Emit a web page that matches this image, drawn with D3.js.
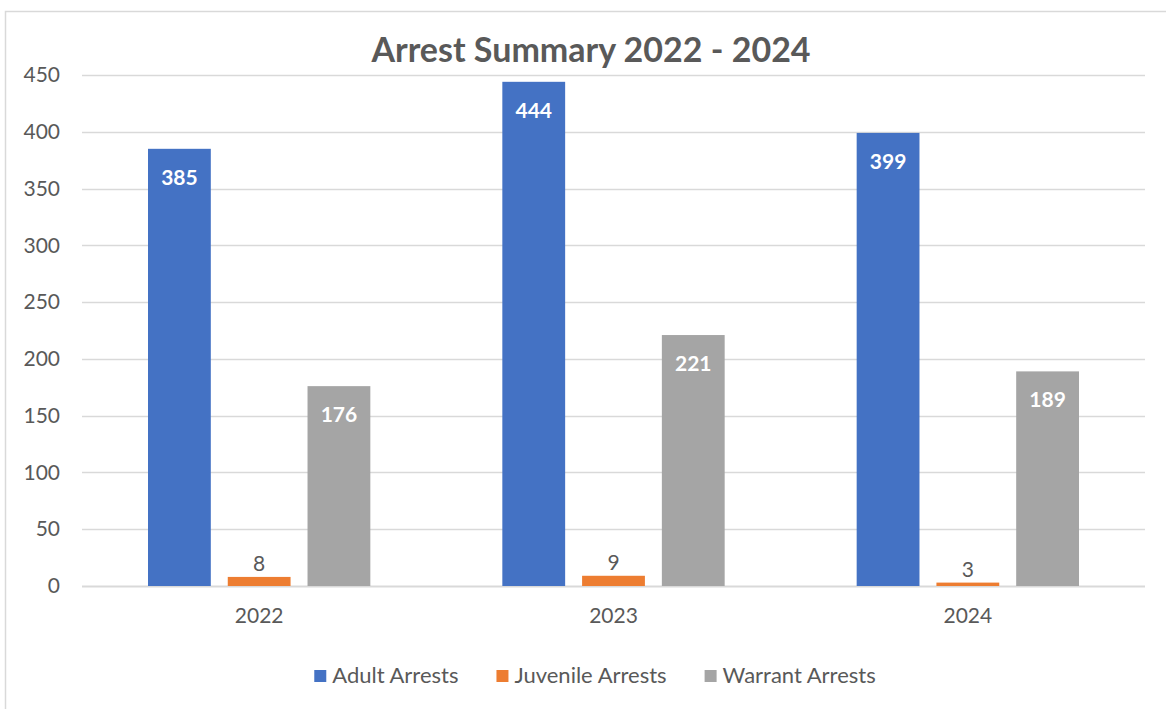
<!DOCTYPE html>
<html>
<head>
<meta charset="utf-8">
<script src="https://cdn.jsdelivr.net/npm/d3@7"></script>
<style>
  html, body { margin: 0; padding: 0; background: #fff; }
  svg { display: block; font-family: Lato, "Open Sans", sans-serif; }
</style>
</head>
<body>
<svg id="chart" width="1166" height="709"></svg>
<script>
// Arrest counts per year, by arrest type
const years = ["2022", "2023", "2024"];
const seriesNames = ["Adult Arrests", "Juvenile Arrests", "Warrant Arrests"];
const adultArrests = [385, 444, 399];
const juvenileArrests = [8, 9, 3];
const warrantArrests = [176, 221, 189];
const yTicks = [0, 50, 100, 150, 200, 250, 300, 350, 400, 450];
const titleText = "Arrest Summary 2022 - 2024";

const colors = ["#4472C4", "#ED7D31", "#A5A5A5"];
const textColor = "#595959";
const seriesValues = [adultArrests, juvenileArrests, warrantArrests];

const svg = d3.select("#chart");

// chart frame
svg.append("rect")
  .attr("x", 5.5).attr("y", 11.5)
  .attr("width", 1200).attr("height", 720)
  .attr("fill", "none").attr("stroke", "#D9D9D9").attr("stroke-width", 1.5);

const plot = { left: 82, right: 1145, top: 75, bottom: 586 };

const y = d3.scaleLinear().domain([0, 450]).range([plot.bottom, plot.top]);
const x0 = d3.scaleBand().domain(years).range([plot.left, plot.right]).padding(0);
const groupPad = 66;
const x1 = d3.scaleBand().domain(seriesNames)
  .range([groupPad, x0.bandwidth() - groupPad]).paddingInner(0.2125).paddingOuter(0);

// gridlines
svg.append("g").selectAll("line").data(yTicks).join("line")
  .attr("x1", plot.left).attr("x2", plot.right)
  .attr("y1", d => Math.round(y(d)) + 0.5).attr("y2", d => Math.round(y(d)) + 0.5)
  .attr("stroke", "#D9D9D9").attr("stroke-width", d => d === 0 ? 2 : 1.5);

// y axis labels
const yAxis = d3.axisLeft(y).tickValues(yTicks).tickSize(0).tickPadding(0);
const yg = svg.append("g").attr("transform", `translate(${plot.left - 22},0)`).call(yAxis);
yg.select(".domain").remove();
yg.selectAll("text").attr("font-size", 21).attr("fill", textColor)
  .attr("font-family", "Lato, 'Open Sans', sans-serif");

// x axis labels
const xAxis = d3.axisBottom(x0).tickSize(0).tickPadding(0);
const xg = svg.append("g").attr("transform", `translate(0,${plot.bottom + 22})`).call(xAxis);
xg.select(".domain").remove();
xg.selectAll("text").attr("font-size", 21).attr("fill", textColor)
  .attr("font-family", "Lato, 'Open Sans', sans-serif");

// bars
const rows = years.map((yr, i) => ({
  year: yr,
  values: seriesNames.map((s, j) => ({ series: s, idx: j, value: seriesValues[j][i] }))
}));

const groups = svg.append("g").selectAll("g").data(rows).join("g")
  .attr("transform", d => `translate(${x0(d.year)},0)`);

groups.selectAll("rect").data(d => d.values).join("rect")
  .attr("x", d => x1(d.series))
  .attr("width", x1.bandwidth())
  .attr("y", d => y(d.value))
  .attr("height", d => plot.bottom - y(d.value))
  .attr("fill", d => colors[d.idx]);

// value labels: inside the top for tall bars, above for short ones
groups.selectAll("text").data(d => d.values).join("text")
  .attr("x", d => x1(d.series) + x1.bandwidth() / 2)
  .attr("y", d => d.value > 50 ? y(d.value) + 36 : y(d.value) - 6)
  .attr("text-anchor", "middle")
  .attr("font-size", 21)
  .attr("font-weight", d => d.value > 50 ? "bold" : "normal")
  .attr("fill", d => d.value > 50 ? "#FFFFFF" : textColor)
  .text(d => d.value);

// title
svg.append("text")
  .attr("x", 591).attr("y", 62)
  .attr("text-anchor", "middle")
  .attr("font-size", 34).attr("font-weight", "bold")
  .attr("fill", textColor)
  .text(titleText);

// legend
const legend = svg.append("g");
const items = legend.selectAll("g").data(seriesNames).join("g");
items.append("rect").attr("width", 12).attr("height", 12).attr("y", -13)
  .attr("fill", (d, i) => colors[i]);
items.append("text").attr("x", 18).attr("y", 0)
  .attr("font-size", 22).attr("fill", textColor).text(d => d);
const widths = [];
items.each(function () {
  widths.push(18 + this.querySelector("text").getComputedTextLength());
});
const gap = 38;
const total = d3.sum(widths) + gap * (widths.length - 1);
let cursor = 595 - total / 2;
items.attr("transform", (d, i) => {
  const t = `translate(${cursor},683)`;
  cursor += widths[i] + gap;
  return t;
});
</script>
</body>
</html>
